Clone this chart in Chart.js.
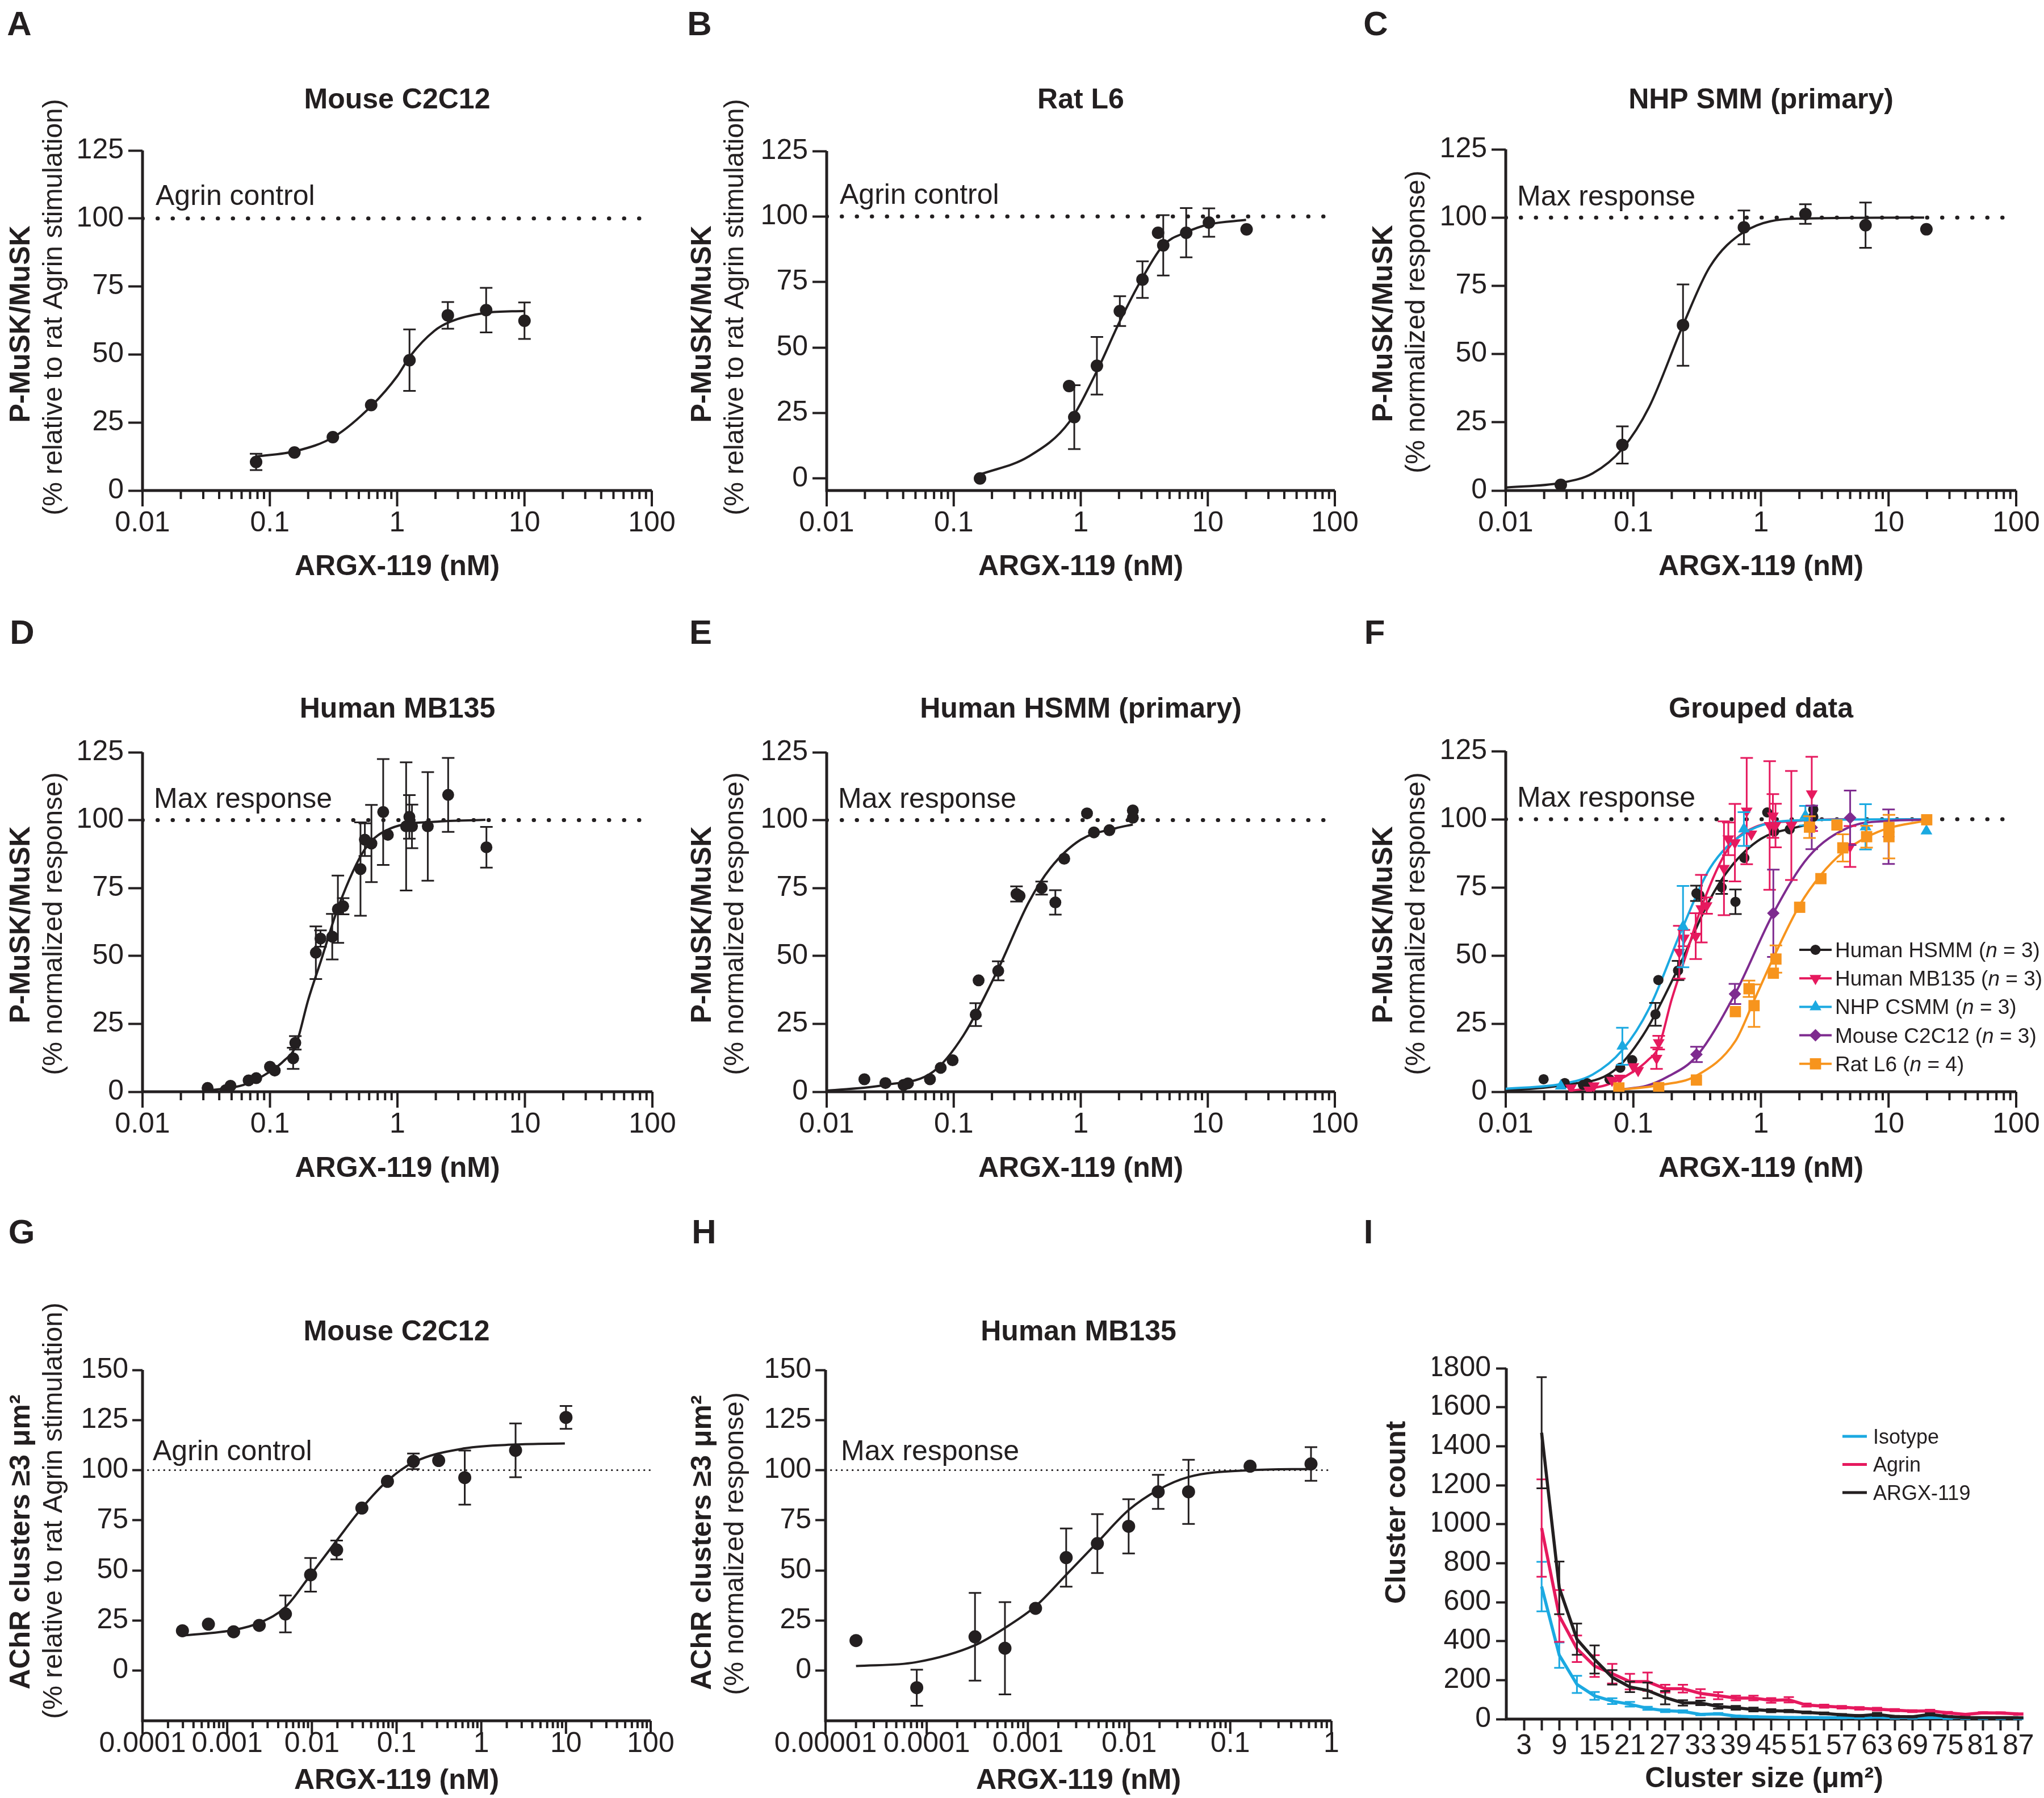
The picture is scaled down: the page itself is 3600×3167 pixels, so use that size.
<!DOCTYPE html>
<html>
<head>
<meta charset="utf-8">
<title>ARGX-119 dose response</title>
<script src="https://cdn.jsdelivr.net/npm/chart.js@4.4.1/dist/chart.umd.min.js"></script>
<style>
  body { margin: 0; background: #ffffff; }
  #page { position: relative; width: 3600px; height: 3167px; overflow: hidden; background: #ffffff; }
  canvas { position: absolute; }
</style>
</head>
<body>
<div id="page">
  <canvas id="chartA" width="1200" height="1060" style="left:0px;top:0px"></canvas>
  <canvas id="chartB" width="1200" height="1060" style="left:1200px;top:0px"></canvas>
  <canvas id="chartC" width="1200" height="1060" style="left:2400px;top:0px"></canvas>
  <canvas id="chartD" width="1200" height="1060" style="left:0px;top:1060px"></canvas>
  <canvas id="chartE" width="1200" height="1060" style="left:1200px;top:1060px"></canvas>
  <canvas id="chartF" width="1200" height="1060" style="left:2400px;top:1060px"></canvas>
  <canvas id="chartG" width="1200" height="1047" style="left:0px;top:2120px"></canvas>
  <canvas id="chartH" width="1200" height="1047" style="left:1200px;top:2120px"></canvas>
  <canvas id="chartI" width="1200" height="1047" style="left:2400px;top:2120px"></canvas>
</div>
<script>
const INK = '#231f20';
const FONT = '"Liberation Sans", Arial, sans-serif';

/* ---------- tick labels ---------- */
const doseTicks = ['0.01', '0.1', '1', '10', '100'];
const achrMouseTicks = ['0.0001', '0.001', '0.01', '0.1', '1', '10', '100'];
const achrHumanTicks = ['0.00001', '0.0001', '0.001', '0.01', '0.1', '1'];

/* ---------- A: mouse C2C12, P-MuSK ---------- */
const mouseX = [0.078, 0.156, 0.3125, 0.625, 1.25, 2.5, 5, 10];
const mouseY = [10.5, 14, 19.6, 31.4, 47.9, 64.4, 66.3, 62.4];
const mouseErr = [3, 0, 0, 0, 11.3, 4.9, 8.2, 6.7];
const mouseFitX = [0.078, 0.16, 0.32, 0.64, 1, 1.27, 1.96, 2.6, 5, 10];
const mouseFitY = [12.5, 14.5, 19.8, 31.5, 42, 49.5, 58.7, 62, 65.3, 66];

/* ---------- B: rat L6 ---------- */
const ratX = [0.161, 0.81, 0.889, 1.34, 2.03, 3.06, 4.06, 4.46, 6.76, 10.2, 20.2];
const ratY = [0, 35.3, 23.4, 43, 63.9, 75.9, 93.8, 89, 93.8, 97.7, 95.1];
const ratErr = [0, 0, 12.2, 11, 5.7, 7, 0, 11.5, 9.4, 5.4, 0];
const ratFitX = [0.161, 0.389, 0.81, 1.34, 2.03, 3.06, 4.46, 6.76, 10.2, 20];
const ratFitY = [1.5, 8.4, 21.5, 41, 60, 76.6, 89, 94, 97, 98.7];

/* ---------- C: NHP SMM ---------- */
const nhpX = [0.027, 0.082, 0.245, 0.735, 2.23, 6.6, 19.8];
const nhpY = [2.1, 16.7, 60.6, 96.4, 101.3, 97.2, 95.7];
const nhpErr = [0, 6.8, 14.9, 6.2, 3.6, 8.3, 0];
const nhpFitX = [0.01, 0.027, 0.048, 0.082, 0.133, 0.245, 0.398, 0.735, 1.91, 19];
const nhpFitY = [1.1, 2.8, 6.3, 15.3, 30.6, 60.6, 82, 94.7, 99.6, 100];

/* ---------- D: human MB135 ---------- */
const mb135X = [0.0324, 0.045, 0.049, 0.068, 0.078, 0.1, 0.109, 0.152, 0.158, 0.229, 0.249, 0.308, 0.341,
  0.375, 0.513, 0.555, 0.625, 0.773, 0.841, 1.17, 1.24, 1.3, 1.73, 2.5, 4.99];
const mb135Y = [1.4, 0.6, 2.2, 4.2, 5, 9.2, 7.8, 12.3, 18, 51.2, 56.4, 57.1, 67.2,
  68.3, 82, 92.8, 91.4, 103, 94.6, 97.7, 101.2, 97.7, 97.7, 109.3, 90];
const mb135Err = [0, 0, 0, 0, 0, 0, 0, 3.9, 2.5, 9.7, 3, 8.4, 12.4,
  3, 17.2, 6, 14.2, 19.5, 0, 23.6, 8, 8, 20, 13.6, 7.5];
const mb135FitX = [0.0324, 0.0617, 0.1, 0.13, 0.158, 0.2, 0.253, 0.345, 0.555, 0.889, 1.95, 4.9];
const mb135FitY = [0.4, 2.5, 7.4, 11.6, 16.5, 34, 48.7, 68.3, 89.3, 97, 99.4, 100.1];

/* ---------- E: human HSMM ---------- */
const hsmmX = [0.0198, 0.029, 0.0403, 0.0436, 0.065, 0.079, 0.098, 0.149, 0.157, 0.224, 0.312, 0.33,
  0.492, 0.631, 0.741, 1.12, 1.27, 1.68, 2.57, 2.57];
const hsmmY = [4.6, 3.2, 2.5, 3.1, 4.6, 8.8, 11.6, 28.4, 41, 44.5, 72.8, 72.1,
  75, 69.7, 85.8, 102.5, 95.5, 96.3, 103.6, 100.9];
const hsmmErr = [0, 0, 0, 0, 0, 0, 0, 4.2, 0, 3.5, 2.8, 0, 2.4, 4.5, 0, 0, 0, 0, 0, 0];
const hsmmFitX = [0.01, 0.029, 0.069, 0.119, 0.224, 0.389, 0.576, 1, 1.88, 2.57];
const hsmmFitY = [0.4, 2.5, 7.4, 20.7, 45.2, 69.7, 82.3, 92.8, 97, 98.4];

/* ---------- F: grouped (normalised mouse and rat) ---------- */
const mouseNormX = [0.3125, 0.625, 1.25, 2.5, 5, 10];
const mouseNormY = [13.7, 35.9, 65.5, 97, 100.5, 93.6];
const mouseNormErr = [2.8, 3.7, 16, 8, 10, 10];
const mouseNormFitX = [0.078, 0.127, 0.182, 0.3125, 0.625, 1.25, 2.37, 4.93, 10.2, 19.9];
const mouseNormFitY = [0.8, 2.2, 5.3, 13, 35.8, 65.5, 86.3, 97.1, 99.4, 99.8];
const ratNormX = [0.077, 0.158, 0.312, 0.63, 0.806, 0.883, 1.25, 1.31, 2.01, 2.4, 2.95, 3.94, 4.38, 6.73, 10.07, 10.07, 19.9];
const ratNormY = [1.4, 1.5, 4.3, 29.4, 37.8, 31.6, 43.5, 48.7, 67.7, 97.1, 78.2, 97.9, 89.5, 93.6, 93.6, 97, 99.8];
const ratNormErr = [0, 0, 0, 0, 3, 7.8, 0, 5, 0, 4, 0, 0, 5, 4, 8, 0, 0];
const ratNormFitX = [0.077, 0.159, 0.312, 0.63, 0.883, 1.25, 2.01, 2.95, 4.38, 6.73, 10.07, 19.9];
const ratNormFitY = [0.7, 2.4, 5.9, 18.6, 33.5, 49.1, 68.5, 79.6, 87.8, 93.4, 96.8, 99.5];
const groupNames = ['Human HSMM', 'Human MB135', 'NHP CSMM', 'Mouse C2C12', 'Rat L6'];
const groupN = [3, 3, 3, 3, 4];

/* ---------- G: AChR clusters, mouse C2C12 ---------- */
const achrMouseX = [0.000296, 0.0006, 0.00119, 0.00239, 0.00487, 0.00966, 0.0196, 0.0389, 0.078, 0.158, 0.314, 0.638, 2.54, 10];
const achrMouseY = [19.9, 23.2, 19.4, 22.6, 28.3, 47.8, 60.2, 81.1, 94.4, 104.4, 104.8, 96.3, 109.9, 126.3];
const achrMouseErr = [0, 0, 0, 0, 9.2, 8.4, 4.7, 0, 0, 3.9, 0, 13.5, 13.4, 5.7];
const achrMouseFitX = [0.000296, 0.0012, 0.00248, 0.00487, 0.00966, 0.0196, 0.0389, 0.078, 0.158, 0.638, 2.54, 9.7];
const achrMouseFitY = [17.5, 20.3, 24.1, 31.7, 47.8, 64.9, 81.1, 94.7, 103.9, 110.9, 112.8, 113.3];

/* ---------- H: AChR clusters, human MB135 ---------- */
const achrHumanX = [0.00002, 0.0000797, 0.0003, 0.000593, 0.00119, 0.00239, 0.00486, 0.0099, 0.0194, 0.0387, 0.157, 0.628];
const achrHumanY = [15, -8.5, 16.9, 11.2, 31.1, 56.4, 63.4, 72, 89.2, 89.2, 102, 103.1];
const achrHumanErr = [0, 9, 21.9, 23, 0, 14.5, 14.7, 13.5, 8.5, 16, 0, 8.4];
const achrHumanFitX = [0.00002, 0.0000781, 0.0003, 0.000593, 0.00119, 0.00239, 0.00486, 0.0099, 0.0194, 0.0387, 0.157, 0.628];
const achrHumanFitY = [2.3, 4.2, 12.7, 21.3, 32.1, 47.8, 64, 80.1, 90.2, 96.6, 100, 100.6];

/* ---------- I: cluster size distribution ---------- */
const clusterSize = [6, 9, 12, 15, 18, 21, 24, 27, 30, 33, 36, 39, 42, 45, 48, 51, 54, 57, 60, 63, 66, 69, 72, 75, 78, 81, 84, 87];
const isotypeCount = [680, 328, 178, 119, 92, 76, 55, 43, 39, 24, 27, 15, 12, 10, 8, 8, 7, 7, 6, 10, 5, 5, 8, 4, 4, 3, 3, 3];
const isotypeErr = [127, 65, 44, 20, 15, 12, 8, 7, 6, 4, 4, 3, 3, 3, 3, 3, 3, 3, 3, 3, 3, 3, 3, 3, 3, 3, 3, 3];
const agrinCount = [980, 529, 361, 272, 233, 192, 192, 156, 156, 132, 120, 108, 108, 96, 99, 72, 66, 61, 55, 51, 46, 41, 42, 32, 24, 32, 31, 26];
const agrinErr = [250, 133, 68, 56, 50, 40, 47, 20, 20, 22, 18, 12, 12, 12, 14, 8, 8, 7, 7, 7, 6, 5, 6, 5, 4, 4, 4, 4];
const argxCount = [1469, 673, 410, 306, 214, 165, 147, 110, 83, 83, 65, 58, 49, 43, 41, 34, 29, 22, 17, 24, 13, 12, 24, 13, 8, 7, 7, 7];
const argxErr = [285, 135, 80, 72, 37, 27, 40, 34, 14, 12, 12, 10, 10, 8, 6, 5, 5, 4, 4, 8, 4, 3, 6, 3, 3, 3, 3, 3];

/* colours */
const colHSMM = INK;
const colMB135 = '#e6195e';
const colNHP = '#1ba9e1';
const colMouse = '#7e2b8f';
const colRat = '#f7941d';

/* ---------- layout of each panel (canvas-local pixels) ---------- */
const decor = {
  chartA: { L: 251, T: 265, R: 1148, B: 864, letter: 'A', lx: 34, ly: 62, title: 'Mouse C2C12', ty: 191, xty: 1013,
    y1: 'P-MuSK/MuSK', y1x: 38, y1y: 571, y2: '(% relative to rat Agrin stimulation)', y2x: 96, y2y: 541,
    ref: 'Agrin control', refX: 23, refDy: 24, logTicks: [28, 15] },
  chartB: { L: 256, T: 266, R: 1151, B: 864, letter: 'B', lx: 32, ly: 62, title: 'Rat L6', ty: 191, xty: 1013,
    y1: 'P-MuSK/MuSK', y1x: 38, y1y: 571, y2: '(% relative to rat Agrin stimulation)', y2x: 96, y2y: 541,
    ref: 'Agrin control', refX: 23, refDy: 22, logTicks: [28, 15] },
  chartC: { L: 252, T: 263, R: 1151, B: 864, letter: 'C', lx: 23, ly: 62, title: 'NHP SMM (primary)', ty: 191, xty: 1013,
    y1: 'P-MuSK/MuSK', y1x: 38, y1y: 570, y2: '(% normalized response)', y2x: 96, y2y: 567,
    ref: 'Max response', refX: 20, refDy: 21, logTicks: [28, 15] },
  chartD: { L: 251, T: 265, R: 1149, B: 863, letter: 'D', lx: 39, ly: 74, title: 'Human MB135', ty: 204, xty: 1013,
    y1: 'P-MuSK/MuSK', y1x: 38, y1y: 569, y2: '(% normalized response)', y2x: 96, y2y: 567,
    ref: 'Max response', refX: 20, refDy: 22, logTicks: [28, 15] },
  chartE: { L: 256, T: 265, R: 1151, B: 863, letter: 'E', lx: 34, ly: 74, title: 'Human HSMM (primary)', ty: 204, xty: 1013,
    y1: 'P-MuSK/MuSK', y1x: 38, y1y: 569, y2: '(% normalized response)', y2x: 96, y2y: 567,
    ref: 'Max response', refX: 20, refDy: 22, logTicks: [28, 15] },
  chartF: { L: 252, T: 263, R: 1151, B: 863, letter: 'F', lx: 21, ly: 74, title: 'Grouped data', ty: 204, xty: 1013,
    y1: 'P-MuSK/MuSK', y1x: 38, y1y: 569, y2: '(% normalized response)', y2x: 96, y2y: 567,
    ref: 'Max response', refX: 20, refDy: 22, logTicks: [28, 15],
    legend: { x0: 769, x1: 826, tx: 832, y: 613, dy: 50.2, size: 37, marker: true } },
  chartG: { L: 251, T: 293, R: 1146, B: 911, letter: 'G', lx: 38, ly: 70, title: 'Mouse C2C12', ty: 241, xty: 1031,
    y1: 'AChR clusters \u22653 \u03bcm\u00b2', y1x: 38, y1y: 596, y2: '(% relative to rat Agrin stimulation)', y2x: 96, y2y: 541,
    ref: 'Agrin control', refX: 18, refDy: 18, logTicks: [23, 13] },
  chartH: { L: 254, T: 293, R: 1145, B: 911, letter: 'H', lx: 40, ly: 70, title: 'Human MB135', ty: 241, xty: 1031,
    y1: 'AChR clusters \u22653 \u03bcm\u00b2', y1x: 38, y1y: 597, y2: '(% normalized response)', y2x: 96, y2y: 599,
    ref: 'Max response', refX: 27, refDy: 18, logTicks: [23, 13] },
  chartI: { L: 253, T: 290, R: 1161, B: 908, letter: 'I', lx: 10, ly: 70, xTitle: 'Cluster size (\u03bcm\u00b2)', xty: 1028,
    y1: 'Cluster count', y1x: 61, y1y: 544,
    legend: { x0: 845, x1: 888, tx: 899, y: 410, dy: 49.5, size: 36, marker: false } }
};

function pts(xs, ys) {
  return xs.map(function (x, i) { return { x: x, y: ys[i] }; });
}

function scatterSet(xs, ys, errs, color, style, r, rot, order) {
  return {
    type: 'scatter', data: pts(xs, ys), errs: errs, errColor: color,
    backgroundColor: color, borderColor: color, pointStyle: style, pointRadius: r,
    pointRotation: rot || 0, pointBorderWidth: 0, order: order
  };
}

function fitSet(xs, ys, color, order) {
  return {
    type: 'line', data: pts(xs, ys), borderColor: color, borderWidth: 4, pointRadius: 0,
    cubicInterpolationMode: 'monotone', fill: false, order: order
  };
}

function refSet(xmin, xmax, dot, gap) {
  return {
    type: 'line', data: [{ x: xmin, y: 100 }, { x: xmax, y: 100 }], borderColor: INK, borderWidth: dot,
    borderDash: [0.5, gap], borderCapStyle: 'round', pointRadius: 0, order: 50
  };
}

function logAxis(min, max, labels, labOff) {
  const e0 = Math.round(Math.log10(min));
  return {
    type: 'logarithmic', min: min, max: max,
    border: { display: false },
    grid: { display: false, drawTicks: true, tickLength: labOff },
    ticks: {
      autoSkip: false, maxRotation: 0, minRotation: 0, padding: 0, color: INK,
      font: { family: FONT, size: 50 },
      callback: function (v) {
        const e = Math.log10(v), r = Math.round(e);
        return Math.abs(e - r) < 1e-6 ? labels[r - e0] : '';
      }
    },
    afterFit: function (s) { s.height = 90; }
  };
}

function valueAxis(min, max, step, tickLen, pad) {
  return {
    min: min, max: max,
    border: { display: false },
    grid: {
      drawOnChartArea: false, drawTicks: true, tickLength: tickLen, tickWidth: 4,
      tickColor: function (c) { return (c.tick && c.tick.value < 0) ? 'rgba(0,0,0,0)' : INK; }
    },
    ticks: {
      stepSize: step, includeBounds: false, padding: pad, color: INK,
      font: { family: FONT, size: 50 },
      callback: function (v) { return v < 0 ? '' : String(v); }
    },
    afterFit: function (s) { s.width = 130; }
  };
}

function vText(ctx, s, x, y, font) {
  ctx.save();
  ctx.translate(x, y);
  ctx.rotate(-Math.PI / 2);
  ctx.font = font;
  ctx.textAlign = 'center';
  ctx.textBaseline = 'middle';
  ctx.fillText(s, 0, 0);
  ctx.restore();
}

const decorPlugin = {
  id: 'decor',
  beforeDatasetsDraw: function (chart) {
    const g = decor[chart.canvas.id];
    const ctx = chart.ctx, ca = chart.chartArea, xs = chart.scales.x;
    ctx.save();
    ctx.strokeStyle = INK;
    ctx.lineWidth = 5;
    ctx.beginPath();
    ctx.moveTo(ca.left, ca.top);
    ctx.lineTo(ca.left, ca.bottom + 2.5);
    ctx.moveTo(ca.left - 2.5, ca.bottom);
    ctx.lineTo(ca.right, ca.bottom);
    ctx.stroke();
    if (g.logTicks) {
      ctx.lineWidth = 4;
      const e0 = Math.round(Math.log10(xs.min)), e1 = Math.round(Math.log10(xs.max));
      ctx.beginPath();
      for (let e = e0; e <= e1; e++) {
        for (let k = 1; k <= 9; k++) {
          if (e === e1 && k > 1) break;
          const px = xs.getPixelForValue(k * Math.pow(10, e));
          ctx.moveTo(px, ca.bottom);
          ctx.lineTo(px, ca.bottom + (k === 1 ? g.logTicks[0] : g.logTicks[1]));
        }
      }
      ctx.stroke();
    }
    ctx.restore();
  },
  beforeDatasetDraw: function (chart, args) {
    const ds = chart.data.datasets[args.index];
    if (!ds.errs) return;
    const ctx = chart.ctx, xs = chart.scales.x, ys = chart.scales.y;
    const cap = ds.capHalf || 11;
    ctx.save();
    ctx.strokeStyle = ds.errColor;
    ctx.lineWidth = ds.errWidth || 3;
    ctx.beginPath();
    ds.data.forEach(function (p, i) {
      const e = ds.errs[i];
      if (!e) return;
      const px = xs.getPixelForValue(p.x);
      const y1 = ys.getPixelForValue(p.y + e), y2 = ys.getPixelForValue(p.y - e);
      ctx.moveTo(px, y1); ctx.lineTo(px, y2);
      ctx.moveTo(px - cap, y1); ctx.lineTo(px + cap, y1);
      ctx.moveTo(px - cap, y2); ctx.lineTo(px + cap, y2);
    });
    ctx.stroke();
    ctx.restore();
  },
  afterDraw: function (chart) {
    const g = decor[chart.canvas.id];
    const ctx = chart.ctx, ca = chart.chartArea, ys = chart.scales.y;
    const cx = (ca.left + ca.right) / 2;
    ctx.save();
    ctx.fillStyle = INK;
    ctx.textBaseline = 'alphabetic';
    ctx.textAlign = 'center';
    ctx.font = 'bold 60px ' + FONT;
    ctx.fillText(g.letter, g.lx, g.ly);
    if (g.title) {
      ctx.font = 'bold 50px ' + FONT;
      ctx.fillText(g.title, cx, g.ty);
    }
    ctx.font = 'bold 50px ' + FONT;
    ctx.fillText(g.xTitle || 'ARGX-119 (nM)', cx, g.xty);
    vText(ctx, g.y1, g.y1x, g.y1y, 'bold 50px ' + FONT);
    if (g.y2) vText(ctx, g.y2, g.y2x, g.y2y, '48px ' + FONT);
    if (g.ref) {
      ctx.textAlign = 'left';
      ctx.font = '50px ' + FONT;
      ctx.fillText(g.ref, ca.left + g.refX, ys.getPixelForValue(100) - g.refDy);
    }
    if (g.legend) {
      const lg = g.legend;
      const sets = chart.data.datasets.filter(function (d) { return d.legendIndex !== undefined; })
        .sort(function (a, b) { return a.legendIndex - b.legendIndex; });
      sets.forEach(function (d, i) {
        const y = lg.y + i * lg.dy;
        ctx.strokeStyle = d.errColor || d.borderColor;
        ctx.lineWidth = lg.marker ? 4 : 5;
        ctx.beginPath();
        ctx.moveTo(lg.x0, y);
        ctx.lineTo(lg.x1, y);
        ctx.stroke();
        if (lg.marker) {
          ctx.fillStyle = d.backgroundColor;
          Chart.helpers.drawPoint(ctx, { pointStyle: d.pointStyle, radius: d.pointRadius, rotation: d.pointRotation, borderWidth: 0 }, (lg.x0 + lg.x1) / 2, y);
        }
        ctx.fillStyle = INK;
        ctx.textAlign = 'left';
        let x = lg.tx;
        d.legendParts.forEach(function (part) {
          ctx.font = (part.it ? 'italic ' : '') + lg.size + 'px ' + FONT;
          ctx.fillText(part.t, x, y + lg.size * 0.35);
          x += ctx.measureText(part.t).width;
        });
      });
    }
    ctx.restore();
  }
};
Chart.register(decorPlugin);
Chart.defaults.font.family = FONT;

function makeChart(id, datasets, xScale, yScale) {
  const g = decor[id];
  const h = document.getElementById(id).height;
  return new Chart(id, {
    type: 'scatter',
    data: { datasets: datasets },
    options: {
      responsive: false, animation: false, devicePixelRatio: 1, events: [],
      layout: { padding: { left: g.L - 130, top: g.T, right: 1200 - g.R, bottom: h - g.B - 90 } },
      plugins: { legend: { display: false }, tooltip: { enabled: false } },
      scales: { x: xScale, y: yScale }
    }
  });
}

function groupLabel(i) {
  return [{ t: groupNames[i] + ' (' }, { t: 'n', it: true }, { t: ' = ' + groupN[i] + ')' }];
}

/* A */
makeChart('chartA', [
  scatterSet(mouseX, mouseY, mouseErr, INK, 'circle', 11, 0, 1),
  fitSet(mouseFitX, mouseFitY, INK, 2),
  refSet(0.01, 100, 7, 26)
], logAxis(0.01, 100, doseTicks, 28), valueAxis(0, 125, 25, 25, 8));

/* B */
makeChart('chartB', [
  scatterSet(ratX, ratY, ratErr, INK, 'circle', 11, 0, 1),
  fitSet(ratFitX, ratFitY, INK, 2),
  refSet(0.01, 100, 7, 26)
], logAxis(0.01, 100, doseTicks, 28), valueAxis(-4.6, 125, 25, 25, 8));

/* C */
makeChart('chartC', [
  scatterSet(nhpX, nhpY, nhpErr, INK, 'circle', 11, 0, 1),
  fitSet(nhpFitX, nhpFitY, INK, 2),
  refSet(0.01, 100, 7, 26)
], logAxis(0.01, 100, doseTicks, 28), valueAxis(0, 125, 25, 25, 8));

/* D */
makeChart('chartD', [
  scatterSet(mb135X, mb135Y, mb135Err, INK, 'circle', 10.5, 0, 1),
  fitSet(mb135FitX, mb135FitY, INK, 2),
  refSet(0.01, 100, 7, 26)
], logAxis(0.01, 100, doseTicks, 28), valueAxis(0, 125, 25, 25, 8));

/* E */
makeChart('chartE', [
  scatterSet(hsmmX, hsmmY, hsmmErr, INK, 'circle', 10.5, 0, 1),
  fitSet(hsmmFitX, hsmmFitY, INK, 2),
  refSet(0.01, 100, 7, 26)
], logAxis(0.01, 100, doseTicks, 28), valueAxis(0, 125, 25, 25, 8));

/* F */
(function () {
  const sHSMM = scatterSet(hsmmX, hsmmY, hsmmErr, colHSMM, 'circle', 9, 0, 5);
  const sMB = scatterSet(mb135X, mb135Y, mb135Err, colMB135, 'triangle', 12, 180, 4);
  const sNHP = scatterSet(nhpX, nhpY, nhpErr, colNHP, 'triangle', 12, 0, 3);
  const sMouse = scatterSet(mouseNormX, mouseNormY, mouseNormErr, colMouse, 'rectRot', 11, 0, 2);
  const sRat = scatterSet(ratNormX, ratNormY, ratNormErr, colRat, 'rect', 14, 0, 1);
  [sHSMM, sMB, sNHP, sMouse, sRat].forEach(function (s, i) {
    s.legendIndex = i;
    s.legendParts = groupLabel(i);
  });
  makeChart('chartF', [
    sRat, sMouse, sNHP, sMB, sHSMM,
    fitSet(ratNormFitX, ratNormFitY, colRat, 10),
    fitSet(mouseNormFitX, mouseNormFitY, colMouse, 11),
    fitSet(nhpFitX, nhpFitY, colNHP, 12),
    fitSet(mb135FitX, mb135FitY, colMB135, 13),
    fitSet(hsmmFitX, hsmmFitY, colHSMM, 14),
    refSet(0.01, 100, 7, 26)
  ], logAxis(0.01, 100, doseTicks, 28), valueAxis(0, 125, 25, 25, 8));
})();

/* G */
makeChart('chartG', [
  scatterSet(achrMouseX, achrMouseY, achrMouseErr, INK, 'circle', 11.5, 0, 1),
  fitSet(achrMouseFitX, achrMouseFitY, INK, 2),
  refSet(0.0001, 100, 3, 9)
], logAxis(0.0001, 100, achrMouseTicks, 11), valueAxis(-25, 150, 25, 18, 7));

/* H */
makeChart('chartH', [
  scatterSet(achrHumanX, achrHumanY, achrHumanErr, INK, 'circle', 11.5, 0, 1),
  fitSet(achrHumanFitX, achrHumanFitY, INK, 2),
  refSet(0.00001, 1, 3, 9)
], logAxis(0.00001, 1, achrHumanTicks, 11), valueAxis(-25, 150, 25, 18, 7));

/* I */
(function () {
  function lineSet(ys, errs, color, order, idx, label) {
    return {
      type: 'line', data: pts(clusterSize, ys), errs: errs, errColor: color, capHalf: 9, errWidth: 3,
      borderColor: color, borderWidth: 5.5, pointRadius: 0, tension: 0, fill: false, order: order,
      legendIndex: idx, legendParts: [{ t: label }]
    };
  }
  makeChart('chartI', [
    lineSet(argxCount, argxErr, INK, 1, 2, 'ARGX-119'),
    lineSet(agrinCount, agrinErr, colMB135, 2, 1, 'Agrin'),
    lineSet(isotypeCount, isotypeErr, colNHP, 3, 0, 'Isotype')
  ], {
    type: 'linear', min: 0, max: 87.6,
    border: { display: false },
    grid: {
      display: true, drawOnChartArea: false, drawTicks: true, tickLength: 20, tickWidth: 4,
      tickColor: function (c) { return (c.tick && c.tick.value === 0) ? 'rgba(0,0,0,0)' : INK; }
    },
    ticks: {
      stepSize: 3, includeBounds: false, autoSkip: false, maxRotation: 0, minRotation: 0, padding: -2,
      color: INK, font: { family: FONT, size: 50 },
      callback: function (v) { return v % 6 === 3 ? String(v) : ''; }
    },
    afterFit: function (s) { s.height = 90; }
  }, valueAxis(0, 1800, 200, 18, 9));
})();
</script>
</body>
